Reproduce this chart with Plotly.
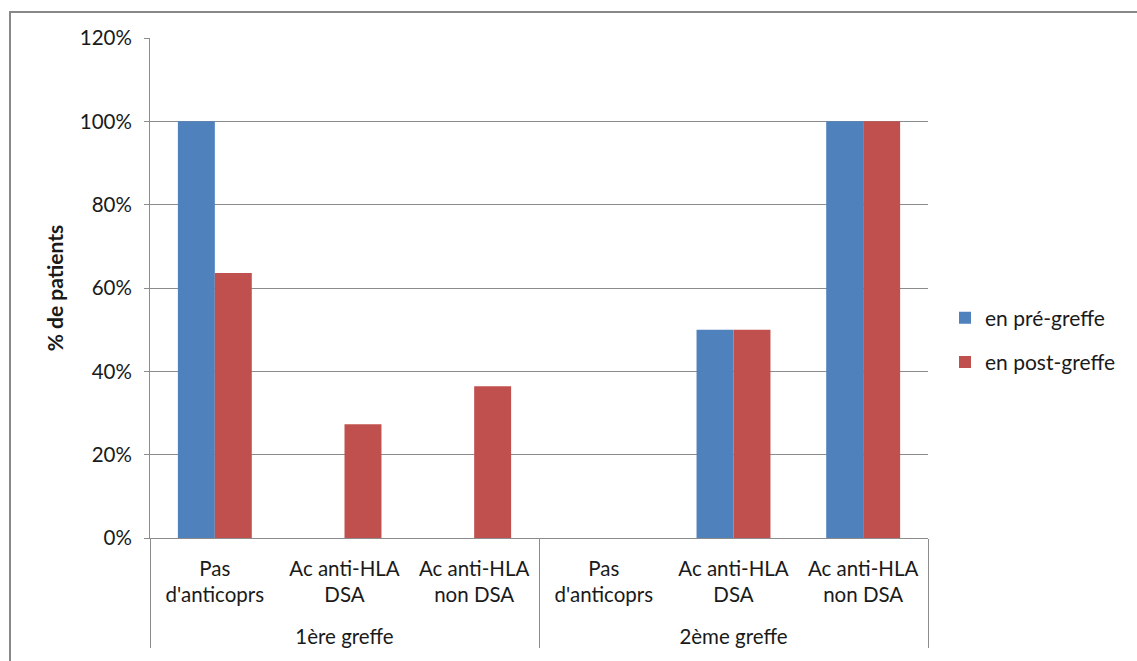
import plotly.graph_objects as go

# Categories: transplant rank (group level) and antibody status (sub level)
groupes = ["1ère greffe", "1ère greffe", "1ère greffe",
           "2ème greffe", "2ème greffe", "2ème greffe"]
statuts = ["Pas<br>d'anticoprs", "Ac anti-HLA<br>DSA", "Ac anti-HLA<br>non DSA",
           "Pas<br>d'anticoprs", "Ac anti-HLA<br>DSA", "Ac anti-HLA<br>non DSA"]

# Share of patients (fraction) per series
pre_greffe = [1.00, 0.0, 0.0, 0.0, 0.50, 1.00]
post_greffe = [0.636, 0.273, 0.364, 0.0, 0.50, 1.00]

series_names = ["en pré-greffe", "en post-greffe"]
series_colors = ["#4F81BD", "#C0504D"]

FONT = "Lato, 'Open Sans', sans-serif"
GRID = "#8C8C8C"
TEXT = "#1a1a1a"
FS = 20.5

W, H = 1137, 661
ML, MR, MT, MB = 150, 209, 38, 123

# an empty trailing line leaves room between the two label rows
sub_labels = [s + "<br><span style='font-size:25px'>&nbsp;</span>" for s in statuts]

fig = go.Figure()
for name, vals, col, grp in zip(series_names, [pre_greffe, post_greffe],
                                series_colors, ["a", "b"]):
    fig.add_trace(go.Bar(
        x=[groupes, sub_labels], y=vals, name=name,
        marker=dict(color=col, line=dict(width=0)),
        legendgroup=grp,
    ))

pw = W - ML - MR
ph = H - MT - MB

# outer chart frame (runs past the right and bottom edges of the page)
fig.add_shape(type="rect", xref="paper", yref="paper",
              x0=(10 - ML) / pw, x1=1.5,
              y0=-1.0, y1=1 + (MT - 12) / ph,
              line=dict(color="#888888", width=2), fillcolor="rgba(0,0,0,0)",
              layer="below")

fig.update_layout(
    width=W, height=H,
    margin=dict(l=ML, r=MR, t=MT, b=MB, autoexpand=False),
    paper_bgcolor="white", plot_bgcolor="white",
    barmode="group", bargap=0.43, bargroupgap=0,
    font=dict(family=FONT, size=FS, color=TEXT),
    showlegend=True,
    legend=dict(x=(945 - ML) / pw, xanchor="left",
                y=1 - (340 - MT) / ph, yanchor="middle",
                traceorder="grouped", tracegroupgap=14,
                font=dict(family=FONT, size=21, color=TEXT),
                bgcolor="rgba(0,0,0,0)"),
    xaxis=dict(
        type="multicategory",
        showline=True, linecolor=GRID, linewidth=1,
        ticks="", showgrid=False,
        showdividers=True, dividercolor=GRID, dividerwidth=1,
        ticklabelstandoff=12,
        tickfont=dict(family=FONT, size=FS, color=TEXT),
    ),
    yaxis=dict(
        range=[0, 1.2], dtick=0.2, tickformat=".0%",
        showgrid=True, gridcolor=GRID, gridwidth=1,
        showline=True, linecolor=GRID, linewidth=1,
        ticks="outside", ticklen=5, tickcolor=GRID,
        ticklabelstandoff=8,
        zeroline=False,
        tickfont=dict(family=FONT, size=FS, color=TEXT),
        title=dict(text="<b>% de patients</b>", standoff=10,
                   font=dict(family=FONT, size=21, color=TEXT)),
    ),
)

fig.write_html("out.html")
